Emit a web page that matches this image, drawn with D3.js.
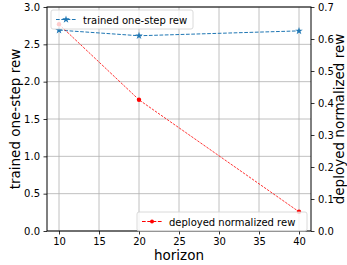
<!DOCTYPE html>
<html>
<head>
<meta charset="utf-8">
<script src="https://cdn.jsdelivr.net/npm/d3@7"></script>
<style>
  body { margin: 0; background: #fff; }
  svg { font-family: "DejaVu Sans", sans-serif; }
</style>
</head>
<body>
<svg id="canvas" width="347" height="265"></svg>
<script>
// chart data
var horizons = [10, 20, 40]
var trainedRew = [2.69, 2.615, 2.68]
var deployedRew = [0.646, 0.41, 0.06]
var xTicks = [10, 15, 20, 25, 30, 35, 40]
var leftTicks = [0, 0.5, 1.0, 1.5, 2.0, 2.5, 3.0]
var rightTicks = [0, 0.1, 0.2, 0.3, 0.4, 0.5, 0.6, 0.7]

var svg = d3.select('#canvas')
var m = { left: 47, right: 311, top: 7, bottom: 231 }

var x = d3.scaleLinear().domain([8.5, 41.5]).range([m.left, m.right])
var yL = d3.scaleLinear().domain([0, 3]).range([m.bottom, m.top])
var yR = d3.scaleLinear().domain([0, 0.7]).range([m.bottom, m.top])

// grid
var grid = svg.append('g')
xTicks.forEach(function(t) {
  grid.append('line')
    .attr('x1', x(t)).attr('x2', x(t))
    .attr('y1', m.top).attr('y2', m.bottom)
    .style('stroke', '#b0b0b0').style('stroke-width', 0.8)
})
leftTicks.forEach(function(t) {
  grid.append('line')
    .attr('x1', m.left).attr('x2', m.right)
    .attr('y1', yL(t)).attr('y2', yL(t))
    .style('stroke', '#b0b0b0').style('stroke-width', 0.8)
})

// axes
function styleAxis(g) {
  g.select('.domain').remove()
  g.selectAll('.tick line').style('stroke', '#000').style('stroke-width', 0.8)
  g.selectAll('.tick text').style('font-size', '10px').style('fill', '#000')
    .style('font-family', '"DejaVu Sans", sans-serif')
}
svg.append('g').attr('transform', 'translate(0,' + m.bottom + ')')
  .call(d3.axisBottom(x).tickValues(xTicks).tickSize(3.5).tickPadding(3.5)).call(styleAxis)
svg.append('g').attr('transform', 'translate(' + m.left + ',0)')
  .call(d3.axisLeft(yL).tickValues(leftTicks).tickSize(3.5).tickPadding(3.5).tickFormat(d3.format('.1f'))).call(styleAxis)
svg.append('g').attr('transform', 'translate(' + m.right + ',0)')
  .call(d3.axisRight(yR).tickValues(rightTicks).tickSize(3.5).tickPadding(3.5).tickFormat(d3.format('.1f'))).call(styleAxis)

// frame
svg.append('rect')
  .attr('x', m.left).attr('y', m.top)
  .attr('width', m.right - m.left).attr('height', m.bottom - m.top)
  .style('fill', 'none').style('stroke', '#000').style('stroke-width', 1)

// series
var blue = '#1f77b4'
var star = d3.symbol().type(d3.symbolStar).size(18)
var trainedLine = d3.line().x(function(d, i) { return x(horizons[i]) }).y(function(d) { return yL(d) })
svg.append('path').datum(trainedRew)
  .attr('d', trainedLine)
  .style('fill', 'none').style('stroke', blue).style('stroke-width', 1)
  .style('stroke-dasharray', '3.7,1.6')
svg.selectAll('.tmark').data(trainedRew).enter().append('path')
  .attr('transform', function(d, i) { return 'translate(' + x(horizons[i]) + ',' + yL(d) + ')' })
  .attr('d', star).style('fill', blue)

var deployedLine = d3.line().x(function(d, i) { return x(horizons[i]) }).y(function(d) { return yR(d) })
svg.append('path').datum(deployedRew)
  .attr('d', deployedLine)
  .style('fill', 'none').style('stroke', 'red').style('stroke-width', 0.8)
  .style('stroke-dasharray', '2.5,1.2')
svg.selectAll('.dmark').data(deployedRew).enter().append('circle')
  .attr('cx', function(d, i) { return x(horizons[i]) })
  .attr('cy', function(d) { return yR(d) })
  .attr('r', 2.2).style('fill', 'red')

// legends
function legend(lx, ly, w, label, color, marker) {
  var g = svg.append('g').attr('transform', 'translate(' + lx + ',' + ly + ')')
  g.append('rect').attr('width', w).attr('height', 19).attr('rx', 2)
    .style('fill', 'rgba(255,255,255,0.8)').style('stroke', '#d0d0d0').style('stroke-width', 0.8)
  g.append('line').attr('x1', 5).attr('x2', 25).attr('y1', 9.5).attr('y2', 9.5)
    .style('stroke', color).style('stroke-width', 1).style('stroke-dasharray', '3.7,1.6')
  if (marker === 'star') {
    g.append('path').attr('transform', 'translate(15,9.5)').attr('d', star).style('fill', color)
  } else {
    g.append('circle').attr('cx', 15).attr('cy', 9.5).attr('r', 2).style('fill', color)
  }
  g.append('text').attr('x', 32).attr('y', 13.5).style('font-size', '10px').text(label)
}
legend(51, 10, 142, 'trained one-step rew', blue, 'star')
legend(137, 212, 170, 'deployed normalized rew', 'red', 'dot')

// axis labels
svg.append('text').attr('x', (m.left + m.right) / 2).attr('y', 260)
  .attr('text-anchor', 'middle').style('font-size', '13.5px').text('horizon')
svg.append('text').attr('transform', 'translate(20,' + ((m.top + m.bottom) / 2) + ') rotate(-90)')
  .attr('text-anchor', 'middle').style('font-size', '13.5px').text('trained one-step rew')
svg.append('text').attr('transform', 'translate(344,' + ((m.top + m.bottom) / 2) + ') rotate(-90)')
  .attr('text-anchor', 'middle').style('font-size', '13.5px').text('deployed normalized rew')
</script>
</body>
</html>
